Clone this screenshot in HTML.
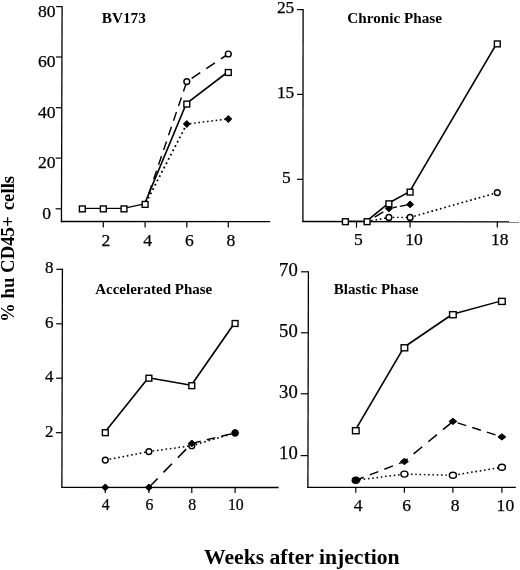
<!DOCTYPE html>
<html><head><meta charset="utf-8"><title>Figure</title>
<style>
html,body{margin:0;padding:0;background:#fff;}
svg{display:block;font-family:"Liberation Serif",serif;fill:#000;}
</style></head><body>
<svg width="520" height="570" viewBox="0 0 520 570">
<rect width="520" height="570" fill="#fff"/>
<line x1="62.10" y1="6.00" x2="61.45" y2="222.20" stroke="#000" stroke-width="1.3"/>
<line x1="60.85" y1="221.50" x2="270.15" y2="221.70" stroke="#000" stroke-width="1.3"/>
<line x1="56.20" y1="6.60" x2="62.10" y2="6.60" stroke="#000" stroke-width="1.2"/>
<text transform="translate(55.60 16.60) scale(1.0 1)" font-size="17.6" stroke="#000" stroke-width="0.25" text-anchor="end">80</text>
<line x1="56.05" y1="57.00" x2="61.95" y2="57.00" stroke="#000" stroke-width="1.2"/>
<text transform="translate(55.60 67.00) scale(1.0 1)" font-size="17.6" stroke="#000" stroke-width="0.25" text-anchor="end">60</text>
<line x1="55.89" y1="107.70" x2="61.79" y2="107.70" stroke="#000" stroke-width="1.2"/>
<text transform="translate(55.60 117.70) scale(1.0 1)" font-size="17.6" stroke="#000" stroke-width="0.25" text-anchor="end">40</text>
<line x1="55.74" y1="158.10" x2="61.64" y2="158.10" stroke="#000" stroke-width="1.2"/>
<text transform="translate(55.60 167.90) scale(1.0 1)" font-size="17.6" stroke="#000" stroke-width="0.25" text-anchor="end">20</text>
<line x1="55.59" y1="208.80" x2="61.49" y2="208.80" stroke="#000" stroke-width="1.2"/>
<text transform="translate(51.10 218.80) scale(1.0 1)" font-size="17.6" stroke="#000" stroke-width="0.25" text-anchor="end">0</text>
<line x1="103.30" y1="221.60" x2="103.30" y2="227.50" stroke="#000" stroke-width="1.2"/>
<text transform="translate(105.90 245.90) scale(1.0 1)" font-size="17.6" stroke="#000" stroke-width="0.25" text-anchor="middle">2</text>
<line x1="145.10" y1="221.60" x2="145.10" y2="227.50" stroke="#000" stroke-width="1.2"/>
<text transform="translate(147.70 245.90) scale(1.0 1)" font-size="17.6" stroke="#000" stroke-width="0.25" text-anchor="middle">4</text>
<line x1="186.80" y1="221.60" x2="186.80" y2="227.50" stroke="#000" stroke-width="1.2"/>
<text transform="translate(189.40 245.90) scale(1.0 1)" font-size="17.6" stroke="#000" stroke-width="0.25" text-anchor="middle">6</text>
<line x1="228.30" y1="221.60" x2="228.30" y2="227.50" stroke="#000" stroke-width="1.2"/>
<text transform="translate(230.90 245.90) scale(1.0 1)" font-size="17.6" stroke="#000" stroke-width="0.25" text-anchor="middle">8</text>
<path d="M145.98 202.70L146.81 201.10 M148.21 198.40L149.04 196.80 M150.44 194.10L151.27 192.50 M152.67 189.80L153.50 188.20 M154.90 185.50L155.73 183.90 M157.13 181.20L157.96 179.60 M159.36 176.90L160.19 175.30 M161.59 172.60L162.42 171.00 M163.82 168.30L164.65 166.70 M166.05 164.00L166.88 162.40 M168.28 159.70L169.11 158.10 M170.51 155.40L171.34 153.80 M172.74 151.10L173.57 149.50 M174.97 146.80L175.80 145.20 M177.20 142.50L178.03 140.90 M179.44 138.20L180.26 136.60 M181.67 133.90L182.50 132.30 M183.90 129.60L184.73 128.00 M186.13 125.30L186.80 124.00" fill="none" stroke="#000" stroke-width="1.82"/>
<path d="M186.80 124.00L187.10 123.96 M189.80 123.64L191.40 123.45 M194.10 123.12L195.70 122.93 M198.40 122.60L200.00 122.41 M202.70 122.08L204.30 121.89 M207.00 121.57L208.60 121.37 M211.30 121.05L212.90 120.86 M215.60 120.53L217.20 120.34 M219.90 120.01L221.50 119.82 M224.20 119.49L225.80 119.30" fill="none" stroke="#000" stroke-width="1.50"/>
<path d="M145.10 204.40L146.59 200.00 M148.65 193.95L151.57 185.35 M153.62 179.30L156.54 170.70 M158.60 164.65L161.52 156.05 M163.57 150.00L166.49 141.40 M168.55 135.35L171.47 126.75 M173.52 120.70L176.44 112.10 M178.50 106.05L181.42 97.45 M183.47 91.40L186.39 82.80" fill="none" stroke="#000" stroke-width="1.42"/>
<path d="M191.65 78.37L200.25 72.65 M206.30 68.63L214.90 62.91 M220.95 58.89L228.30 54.00" fill="none" stroke="#000" stroke-width="1.55"/>
<line x1="81.80" y1="208.40" x2="102.80" y2="208.40" stroke="#000" stroke-width="1.20"/>
<line x1="102.80" y1="208.40" x2="123.50" y2="208.40" stroke="#000" stroke-width="1.20"/>
<line x1="123.50" y1="208.40" x2="144.60" y2="203.90" stroke="#000" stroke-width="1.42"/>
<line x1="144.60" y1="203.90" x2="186.30" y2="103.60" stroke="#000" stroke-width="1.57"/>
<line x1="186.30" y1="103.60" x2="227.80" y2="72.00" stroke="#000" stroke-width="1.68"/>
<polygon points="183.35,124.00 186.80,120.55 190.25,124.00 186.80,127.45" fill="#000" stroke="#000" stroke-width="1.0" stroke-linejoin="round"/>
<polygon points="224.85,119.00 228.30,115.55 231.75,119.00 228.30,122.45" fill="#000" stroke="#000" stroke-width="1.0" stroke-linejoin="round"/>
<ellipse cx="186.80" cy="81.60" rx="2.9" ry="2.9" fill="#fff" stroke="#000" stroke-width="1.45"/>
<ellipse cx="228.30" cy="54.00" rx="2.9" ry="2.9" fill="#fff" stroke="#000" stroke-width="1.45"/>
<rect x="79.38" y="205.97" width="5.85" height="5.85" fill="#fff" stroke="#000" stroke-width="1.4"/>
<rect x="100.38" y="205.97" width="5.85" height="5.85" fill="#fff" stroke="#000" stroke-width="1.4"/>
<rect x="121.08" y="205.97" width="5.85" height="5.85" fill="#fff" stroke="#000" stroke-width="1.4"/>
<rect x="142.17" y="201.47" width="5.85" height="5.85" fill="#fff" stroke="#000" stroke-width="1.4"/>
<rect x="183.88" y="101.17" width="5.85" height="5.85" fill="#fff" stroke="#000" stroke-width="1.4"/>
<rect x="225.38" y="69.58" width="5.85" height="5.85" fill="#fff" stroke="#000" stroke-width="1.4"/>
<text x="101.70" y="22.60" font-size="15.3" font-weight="bold" text-anchor="start">BV173</text>
<line x1="303.10" y1="9.00" x2="302.90" y2="222.10" stroke="#000" stroke-width="1.3"/>
<line x1="302.30" y1="221.50" x2="519.00" y2="221.80" stroke="#000" stroke-width="1.3"/>
<line x1="297.00" y1="9.60" x2="303.00" y2="9.60" stroke="#000" stroke-width="1.2"/>
<text transform="translate(294.30 12.60) scale(1.0 1)" font-size="17.4" stroke="#000" stroke-width="0.25" text-anchor="end">25</text>
<line x1="297.00" y1="94.40" x2="303.00" y2="94.40" stroke="#000" stroke-width="1.2"/>
<text transform="translate(294.30 97.65) scale(1.0 1)" font-size="17.4" stroke="#000" stroke-width="0.25" text-anchor="end">15</text>
<line x1="297.00" y1="179.30" x2="303.00" y2="179.30" stroke="#000" stroke-width="1.2"/>
<text transform="translate(290.70 182.90) scale(1.0 1)" font-size="17.4" stroke="#000" stroke-width="0.25" text-anchor="end">5</text>
<line x1="356.50" y1="221.70" x2="356.50" y2="227.60" stroke="#000" stroke-width="1.2"/>
<text transform="translate(358.50 245.30) scale(1.0 1)" font-size="17.6" stroke="#000" stroke-width="0.25" text-anchor="middle">5</text>
<line x1="410.10" y1="221.70" x2="410.10" y2="227.60" stroke="#000" stroke-width="1.2"/>
<text transform="translate(414.10 245.30) scale(1.0 1)" font-size="17.6" stroke="#000" stroke-width="0.25" text-anchor="middle">10</text>
<line x1="497.30" y1="221.70" x2="497.30" y2="227.60" stroke="#000" stroke-width="1.2"/>
<text transform="translate(499.80 245.30) scale(1.0 1)" font-size="17.6" stroke="#000" stroke-width="0.25" text-anchor="middle">18</text>
<path d="M367.10 221.70L368.50 221.42 M371.20 220.89L372.80 220.58 M375.50 220.04L377.10 219.73 M379.80 219.19L381.40 218.88 M384.10 218.35L385.70 218.03 M388.40 217.50L388.90 217.40" fill="none" stroke="#000" stroke-width="1.59"/>
<path d="M388.90 217.40L390.00 217.40 M392.70 217.40L394.30 217.40 M397.00 217.40L398.60 217.40 M401.30 217.40L402.90 217.40 M405.60 217.40L407.20 217.40 M409.90 217.40L410.10 217.40" fill="none" stroke="#000" stroke-width="1.35"/>
<path d="M410.10 217.40L411.50 217.00 M414.20 216.23L415.80 215.78 M418.50 215.01L420.10 214.56 M422.80 213.79L424.40 213.33 M427.10 212.57L428.70 212.11 M431.40 211.34L433.00 210.89 M435.70 210.12L437.30 209.66 M440.00 208.90L441.60 208.44 M444.30 207.67L445.90 207.22 M448.60 206.45L450.20 206.00 M452.90 205.23L454.50 204.77 M457.20 204.00L458.80 203.55 M461.50 202.78L463.10 202.33 M465.80 201.56L467.40 201.10 M470.10 200.34L471.70 199.88 M474.40 199.11L476.00 198.66 M478.70 197.89L480.30 197.43 M483.00 196.67L484.60 196.21 M487.30 195.44L488.90 194.99 M491.60 194.22L493.20 193.77 M495.90 193.00L497.30 192.60" fill="none" stroke="#000" stroke-width="1.67"/>
<path d="M367.10 221.70L368.65 220.75 M374.70 217.06L383.30 211.82" fill="none" stroke="#000" stroke-width="1.54"/>
<line x1="344.90" y1="221.20" x2="366.60" y2="221.20" stroke="#000" stroke-width="1.20"/>
<line x1="366.60" y1="221.20" x2="388.40" y2="203.30" stroke="#000" stroke-width="1.69"/>
<line x1="388.40" y1="203.30" x2="409.60" y2="191.60" stroke="#000" stroke-width="1.63"/>
<line x1="409.60" y1="191.60" x2="496.80" y2="43.40" stroke="#000" stroke-width="1.64"/>
<line x1="392.50" y1="207.72" x2="397.00" y2="206.87" stroke="#000" stroke-width="1.4"/>
<line x1="399.80" y1="206.34" x2="410.00" y2="204.42" stroke="#000" stroke-width="1.4"/>
<polygon points="385.45,208.40 388.90,204.95 392.35,208.40 388.90,211.85" fill="#000" stroke="#000" stroke-width="1.0" stroke-linejoin="round"/>
<polygon points="406.65,204.40 410.10,200.95 413.55,204.40 410.10,207.85" fill="#000" stroke="#000" stroke-width="1.0" stroke-linejoin="round"/>
<ellipse cx="388.90" cy="217.40" rx="2.9" ry="2.9" fill="#fff" stroke="#000" stroke-width="1.45"/>
<ellipse cx="410.10" cy="217.40" rx="2.9" ry="2.9" fill="#fff" stroke="#000" stroke-width="1.45"/>
<ellipse cx="497.30" cy="192.60" rx="2.9" ry="2.9" fill="#fff" stroke="#000" stroke-width="1.45"/>
<rect x="342.47" y="218.77" width="5.85" height="5.85" fill="#fff" stroke="#000" stroke-width="1.4"/>
<rect x="364.18" y="218.77" width="5.85" height="5.85" fill="#fff" stroke="#000" stroke-width="1.4"/>
<rect x="385.97" y="200.88" width="5.85" height="5.85" fill="#fff" stroke="#000" stroke-width="1.4"/>
<rect x="407.18" y="189.17" width="5.85" height="5.85" fill="#fff" stroke="#000" stroke-width="1.4"/>
<rect x="494.38" y="40.98" width="5.85" height="5.85" fill="#fff" stroke="#000" stroke-width="1.4"/>
<text x="347.30" y="22.60" font-size="15.2" font-weight="bold" text-anchor="start">Chronic Phase</text>
<line x1="62.40" y1="268.70" x2="61.90" y2="487.90" stroke="#000" stroke-width="1.3"/>
<line x1="61.30" y1="487.30" x2="278.60" y2="487.50" stroke="#000" stroke-width="1.3"/>
<line x1="56.30" y1="269.30" x2="62.40" y2="269.30" stroke="#000" stroke-width="1.2"/>
<text transform="translate(53.55 273.45) scale(0.97 1)" font-size="17.5" stroke="#000" stroke-width="0.25" text-anchor="end">8</text>
<line x1="56.17" y1="323.80" x2="62.27" y2="323.80" stroke="#000" stroke-width="1.2"/>
<text transform="translate(53.55 327.95) scale(0.97 1)" font-size="17.5" stroke="#000" stroke-width="0.25" text-anchor="end">6</text>
<line x1="56.05" y1="378.20" x2="62.15" y2="378.20" stroke="#000" stroke-width="1.2"/>
<text transform="translate(53.55 382.35) scale(0.97 1)" font-size="17.5" stroke="#000" stroke-width="0.25" text-anchor="end">4</text>
<line x1="55.92" y1="432.70" x2="62.02" y2="432.70" stroke="#000" stroke-width="1.2"/>
<text transform="translate(53.55 436.85) scale(0.97 1)" font-size="17.5" stroke="#000" stroke-width="0.25" text-anchor="end">2</text>
<line x1="105.30" y1="487.40" x2="105.30" y2="493.00" stroke="#000" stroke-width="1.2"/>
<text transform="translate(105.80 509.75) scale(0.9 1)" font-size="17.6" stroke="#000" stroke-width="0.25" text-anchor="middle">4</text>
<line x1="148.90" y1="487.40" x2="148.90" y2="493.00" stroke="#000" stroke-width="1.2"/>
<text transform="translate(149.40 509.75) scale(0.9 1)" font-size="17.6" stroke="#000" stroke-width="0.25" text-anchor="middle">6</text>
<line x1="191.80" y1="487.40" x2="191.80" y2="493.00" stroke="#000" stroke-width="1.2"/>
<text transform="translate(192.30 509.75) scale(0.9 1)" font-size="17.6" stroke="#000" stroke-width="0.25" text-anchor="middle">8</text>
<line x1="235.10" y1="487.40" x2="235.10" y2="493.00" stroke="#000" stroke-width="1.2"/>
<text transform="translate(235.80 509.75) scale(0.9 1)" font-size="17.6" stroke="#000" stroke-width="0.25" text-anchor="middle">10</text>
<path d="M105.30 460.10L106.90 459.79 M109.60 459.26L111.20 458.95 M113.90 458.42L115.50 458.11 M118.20 457.59L119.80 457.27 M122.50 456.75L124.10 456.43 M126.80 455.91L128.40 455.60 M131.10 455.07L132.70 454.76 M135.40 454.23L137.00 453.92 M139.70 453.39L141.30 453.08 M144.00 452.56L145.60 452.24 M148.30 451.72L148.90 451.60" fill="none" stroke="#000" stroke-width="1.58"/>
<path d="M148.90 451.60L149.90 451.46 M152.60 451.09L154.20 450.87 M156.90 450.50L158.50 450.28 M161.20 449.91L162.80 449.69 M165.50 449.32L167.10 449.10 M169.80 448.73L171.40 448.51 M174.10 448.13L175.70 447.91 M178.40 447.54L180.00 447.32 M182.70 446.95L184.30 446.73 M187.00 446.36L188.60 446.14 M191.30 445.77L191.80 445.70" fill="none" stroke="#000" stroke-width="1.52"/>
<path d="M191.80 445.70L192.90 445.37 M195.60 444.58L197.20 444.10 M199.90 443.31L201.50 442.83 M204.20 442.03L205.80 441.56 M208.50 440.76L210.10 440.29 M212.80 439.49L214.40 439.02 M217.10 438.22L218.70 437.75 M221.40 436.95L223.00 436.48 M225.70 435.68L227.30 435.21 M230.00 434.41L231.60 433.93 M234.30 433.14L235.10 432.90" fill="none" stroke="#000" stroke-width="1.68"/>
<path d="M149.24 487.05L157.63 478.45 M163.53 472.40L171.91 463.80 M177.81 457.75L186.19 449.15" fill="none" stroke="#000" stroke-width="1.58"/>
<path d="M192.10 443.33L200.70 441.24 M206.75 439.77L215.35 437.69 M221.40 436.22L230.00 434.14" fill="none" stroke="#000" stroke-width="1.35"/>
<line x1="104.80" y1="432.20" x2="148.40" y2="377.70" stroke="#000" stroke-width="1.69"/>
<line x1="148.40" y1="377.70" x2="191.30" y2="385.20" stroke="#000" stroke-width="1.39"/>
<line x1="191.30" y1="385.20" x2="234.60" y2="323.00" stroke="#000" stroke-width="1.67"/>
<ellipse cx="105.30" cy="460.10" rx="2.9" ry="2.9" fill="#fff" stroke="#000" stroke-width="1.45"/>
<ellipse cx="148.90" cy="451.60" rx="2.9" ry="2.9" fill="#fff" stroke="#000" stroke-width="1.45"/>
<ellipse cx="191.80" cy="445.70" rx="2.9" ry="2.9" fill="#fff" stroke="#000" stroke-width="1.45"/>
<ellipse cx="235.10" cy="432.90" rx="2.9" ry="2.9" fill="#fff" stroke="#000" stroke-width="1.45"/>
<polygon points="101.85,487.40 105.30,483.95 108.75,487.40 105.30,490.85" fill="#000" stroke="#000" stroke-width="1.0" stroke-linejoin="round"/>
<polygon points="145.45,487.40 148.90,483.95 152.35,487.40 148.90,490.85" fill="#000" stroke="#000" stroke-width="1.0" stroke-linejoin="round"/>
<polygon points="188.35,443.40 191.80,439.95 195.25,443.40 191.80,446.85" fill="#000" stroke="#000" stroke-width="1.0" stroke-linejoin="round"/>
<polygon points="231.65,432.90 235.10,429.45 238.55,432.90 235.10,436.35" fill="#000" stroke="#000" stroke-width="1.0" stroke-linejoin="round"/>
<rect x="102.38" y="429.77" width="5.85" height="5.85" fill="#fff" stroke="#000" stroke-width="1.4"/>
<rect x="145.97" y="375.27" width="5.85" height="5.85" fill="#fff" stroke="#000" stroke-width="1.4"/>
<rect x="188.88" y="382.77" width="5.85" height="5.85" fill="#fff" stroke="#000" stroke-width="1.4"/>
<rect x="232.17" y="320.57" width="5.85" height="5.85" fill="#fff" stroke="#000" stroke-width="1.4"/>
<text x="95.20" y="293.90" font-size="15" font-weight="bold" text-anchor="start">Accelerated Phase</text>
<line x1="308.40" y1="271.20" x2="307.90" y2="487.90" stroke="#000" stroke-width="1.3"/>
<line x1="307.30" y1="487.30" x2="515.85" y2="487.45" stroke="#000" stroke-width="1.3"/>
<line x1="301.10" y1="271.80" x2="308.40" y2="271.80" stroke="#000" stroke-width="1.2"/>
<text transform="translate(297.70 275.55) scale(1.0 1)" font-size="18.6" stroke="#000" stroke-width="0.25" text-anchor="end">70</text>
<line x1="300.96" y1="332.80" x2="308.26" y2="332.80" stroke="#000" stroke-width="1.2"/>
<text transform="translate(297.70 336.55) scale(1.0 1)" font-size="18.6" stroke="#000" stroke-width="0.25" text-anchor="end">50</text>
<line x1="300.82" y1="393.80" x2="308.12" y2="393.80" stroke="#000" stroke-width="1.2"/>
<text transform="translate(297.70 398.35) scale(1.0 1)" font-size="18.6" stroke="#000" stroke-width="0.25" text-anchor="end">30</text>
<line x1="300.68" y1="455.60" x2="307.98" y2="455.60" stroke="#000" stroke-width="1.2"/>
<text transform="translate(297.70 459.35) scale(1.0 1)" font-size="18.6" stroke="#000" stroke-width="0.25" text-anchor="end">10</text>
<line x1="355.80" y1="487.40" x2="355.80" y2="492.80" stroke="#000" stroke-width="1.2"/>
<text transform="translate(358.10 510.70) scale(1.0 1)" font-size="17.6" stroke="#000" stroke-width="0.25" text-anchor="middle">4</text>
<line x1="404.40" y1="487.40" x2="404.40" y2="492.80" stroke="#000" stroke-width="1.2"/>
<text transform="translate(406.70 510.70) scale(1.0 1)" font-size="17.6" stroke="#000" stroke-width="0.25" text-anchor="middle">6</text>
<line x1="452.90" y1="487.40" x2="452.90" y2="492.80" stroke="#000" stroke-width="1.2"/>
<text transform="translate(455.20 510.70) scale(1.0 1)" font-size="17.6" stroke="#000" stroke-width="0.25" text-anchor="middle">8</text>
<line x1="501.90" y1="487.40" x2="501.90" y2="492.80" stroke="#000" stroke-width="1.2"/>
<text transform="translate(505.40 510.70) scale(1.0 1)" font-size="17.6" stroke="#000" stroke-width="0.25" text-anchor="middle">10</text>
<path d="M355.80 480.30L356.60 480.20 M359.30 479.85L360.90 479.65 M363.60 479.30L365.20 479.10 M367.90 478.76L369.50 478.55 M372.20 478.21L373.80 478.00 M376.50 477.66L378.10 477.46 M380.80 477.11L382.40 476.91 M385.10 476.56L386.70 476.36 M389.40 476.01L391.00 475.81 M393.70 475.47L395.30 475.26 M398.00 474.92L399.60 474.71 M402.30 474.37L403.90 474.16" fill="none" stroke="#000" stroke-width="1.51"/>
<path d="M406.60 474.15L408.20 474.19 M410.90 474.26L412.50 474.30 M415.20 474.37L416.80 474.41 M419.50 474.47L421.10 474.51 M423.80 474.58L425.40 474.62 M428.10 474.69L429.70 474.73 M432.40 474.79L434.00 474.83 M436.70 474.90L438.30 474.94 M441.00 475.01L442.60 475.05 M445.30 475.11L446.90 475.15 M449.60 475.22L451.20 475.26" fill="none" stroke="#000" stroke-width="1.38"/>
<path d="M453.90 475.14L455.50 474.88 M458.20 474.43L459.80 474.17 M462.50 473.73L464.10 473.47 M466.80 473.03L468.40 472.77 M471.10 472.33L472.70 472.07 M475.40 471.63L477.00 471.37 M479.70 470.92L481.30 470.66 M484.00 470.22L485.60 469.96 M488.30 469.52L489.90 469.26 M492.60 468.82L494.20 468.56 M496.90 468.12L498.50 467.86 M501.20 467.41L501.90 467.30" fill="none" stroke="#000" stroke-width="1.55"/>
<path d="M355.80 480.30L363.65 477.26 M369.70 474.92L378.30 471.60 M384.35 469.26L392.95 465.93 M399.00 463.59L404.40 461.50" fill="none" stroke="#000" stroke-width="1.45"/>
<path d="M404.40 461.50L407.60 458.85 M413.65 453.85L422.25 446.74 M428.30 441.74L436.90 434.63 M442.95 429.63L451.55 422.52" fill="none" stroke="#000" stroke-width="1.58"/>
<path d="M457.60 422.89L466.20 425.61 M472.25 427.52L480.85 430.24 M486.90 432.16L495.50 434.88 M501.55 436.79L501.90 436.90" fill="none" stroke="#000" stroke-width="1.41"/>
<line x1="355.30" y1="430.20" x2="403.90" y2="347.30" stroke="#000" stroke-width="1.64"/>
<line x1="403.90" y1="347.30" x2="452.40" y2="314.20" stroke="#000" stroke-width="1.67"/>
<line x1="452.40" y1="314.20" x2="501.40" y2="300.90" stroke="#000" stroke-width="1.47"/>
<ellipse cx="355.80" cy="480.30" rx="3.5" ry="3.0" fill="#fff" stroke="#000" stroke-width="1.45"/>
<ellipse cx="404.40" cy="474.10" rx="3.5" ry="3.0" fill="#fff" stroke="#000" stroke-width="1.45"/>
<ellipse cx="452.90" cy="475.30" rx="3.5" ry="3.0" fill="#fff" stroke="#000" stroke-width="1.45"/>
<ellipse cx="501.90" cy="467.30" rx="3.5" ry="3.0" fill="#fff" stroke="#000" stroke-width="1.45"/>
<polygon points="351.85,480.30 355.80,477.15 359.75,480.30 355.80,483.45" fill="#000" stroke="#000" stroke-width="1.0" stroke-linejoin="round"/>
<polygon points="400.45,461.50 404.40,458.35 408.35,461.50 404.40,464.65" fill="#000" stroke="#000" stroke-width="1.0" stroke-linejoin="round"/>
<polygon points="448.95,421.40 452.90,418.25 456.85,421.40 452.90,424.55" fill="#000" stroke="#000" stroke-width="1.0" stroke-linejoin="round"/>
<polygon points="497.95,436.90 501.90,433.75 505.85,436.90 501.90,440.05" fill="#000" stroke="#000" stroke-width="1.0" stroke-linejoin="round"/>
<rect x="352.50" y="427.68" width="6.60" height="6.05" fill="#fff" stroke="#000" stroke-width="1.4"/>
<rect x="401.10" y="344.78" width="6.60" height="6.05" fill="#fff" stroke="#000" stroke-width="1.4"/>
<rect x="449.60" y="311.68" width="6.60" height="6.05" fill="#fff" stroke="#000" stroke-width="1.4"/>
<rect x="498.60" y="298.38" width="6.60" height="6.05" fill="#fff" stroke="#000" stroke-width="1.4"/>
<text x="333.80" y="293.90" font-size="15" font-weight="bold" text-anchor="start">Blastic Phase</text>
<text x="204.00" y="564.00" font-size="21.65" font-weight="bold" text-anchor="start">Weeks after injection</text>
<text transform="translate(14.4,322.0) rotate(-90)" font-size="18.8" font-weight="bold">% hu CD45+ <tspan dx="1.4">cells</tspan></text>
</svg>
</body></html>
